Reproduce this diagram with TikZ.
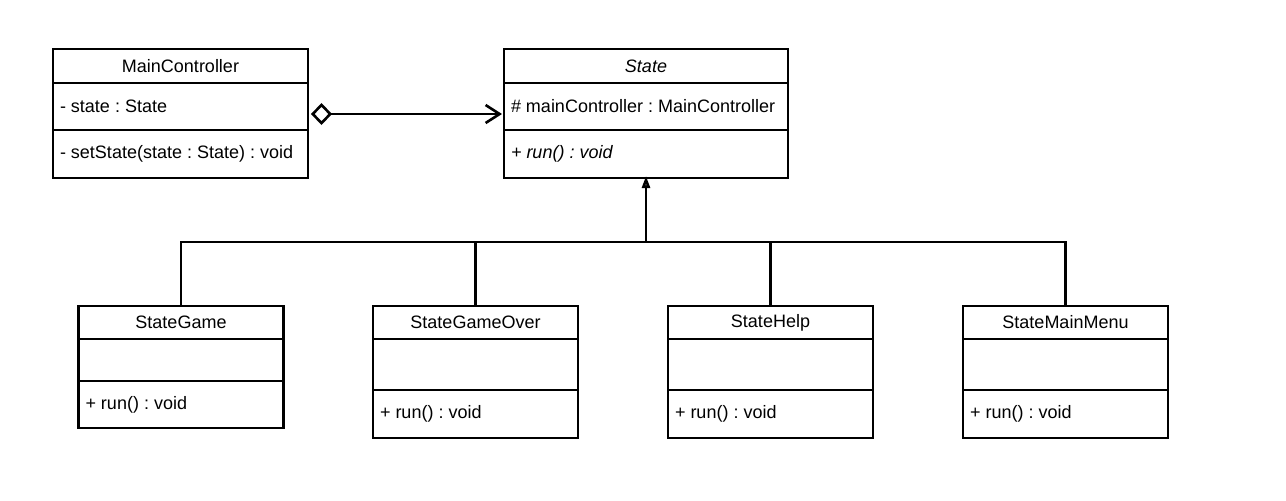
\documentclass[tikz,border=0pt]{standalone}
\usepackage{fontspec}
\setmainfont{Liberation Sans}
\usetikzlibrary{arrows.meta, positioning}

\begin{document}
\begin{tikzpicture}[x=1pt, y=-1pt,
    every node/.style={font=\fontsize{18}{21}\selectfont\frenchspacing},
    box/.style={draw, line width=2.6pt, outer sep=0pt, inner xsep=7pt, inner ysep=0pt, anchor=north},
    head/.style={box, align=center, minimum height=34pt},
    part/.style={box, align=flush left},
    link/.style={line width=2.6pt},
    aggr/.style={link, {Diamond[open, length=21pt, width=22pt]}-{Straight Barb[length=14pt, width=18pt]}},
    inherit/.style={link, -{Triangle[open, length=12pt, width=8pt]}}
]
    \useasboundingbox (0,0) rectangle (1286,501);

    % MainController class
    \node[head, text width=241pt] (mc) at (180.5,49) {MainController};
    \node[part, text width=241pt, minimum height=47pt, below=0pt of mc] (mcattr) {- state : State};
    \node[part, text width=241pt, minimum height=48pt, below=0pt of mcattr] (mcmeth) {- setState(state : State) : void};

    % abstract State class
    \node[head, text width=270pt] (st) at (646,49) {\itshape State};
    \node[part, text width=270pt, minimum height=47pt, below=0pt of st] (stattr) {\# mainController : MainController};
    \node[part, text width=270pt, minimum height=48pt, below=0pt of stattr] (stmeth) {\itshape + run() : void};

    % aggregation
    \draw[aggr] ([xshift=3pt, yshift=-7.5pt]mcattr.east) -- ([xshift=-2pt, yshift=-7.5pt]stattr.west);

    % subclasses
    \node[head, text width=191pt, minimum height=33pt] (sg) at (181,306) {StateGame};
    \node[part, text width=191pt, minimum height=42pt, below=0pt of sg] (sgattr) {};
    \node[part, text width=191pt, minimum height=47pt, below=0pt of sgattr] (sgmeth) {+ run() : void};

    \node[head, text width=191pt, minimum height=33pt] (sgo) at (475.5,306) {StateGameOver};
    \node[part, text width=191pt, minimum height=51pt, below=0pt of sgo] (sgoattr) {};
    \node[part, text width=191pt, minimum height=48pt, below=0pt of sgoattr] (sgometh) {+ run() : void};

    \node[head, text width=191pt, minimum height=33pt] (sh) at (770.5,306) {StateHelp};
    \node[part, text width=191pt, minimum height=51pt, below=0pt of sh] (shattr) {};
    \node[part, text width=191pt, minimum height=48pt, below=0pt of shattr] (shmeth) {+ run() : void};

    \node[head, text width=191pt, minimum height=33pt] (smm) at (1065.5,306) {StateMainMenu};
    \node[part, text width=191pt, minimum height=51pt, below=0pt of smm] (smmattr) {};
    \node[part, text width=191pt, minimum height=48pt, below=0pt of smmattr] (smmmeth) {+ run() : void};

    % inheritance tree
    \coordinate (bus) at (646,242);
    \draw[link] (sg.north) |- (bus) -| (smm.north);
    \draw[link] (sgo.north) -- (sgo.north |- bus);
    \draw[link] (sh.north) -- (sh.north |- bus);
    \draw[inherit] (bus) -- ([yshift=2pt]stmeth.south);
\end{tikzpicture}
\end{document}
